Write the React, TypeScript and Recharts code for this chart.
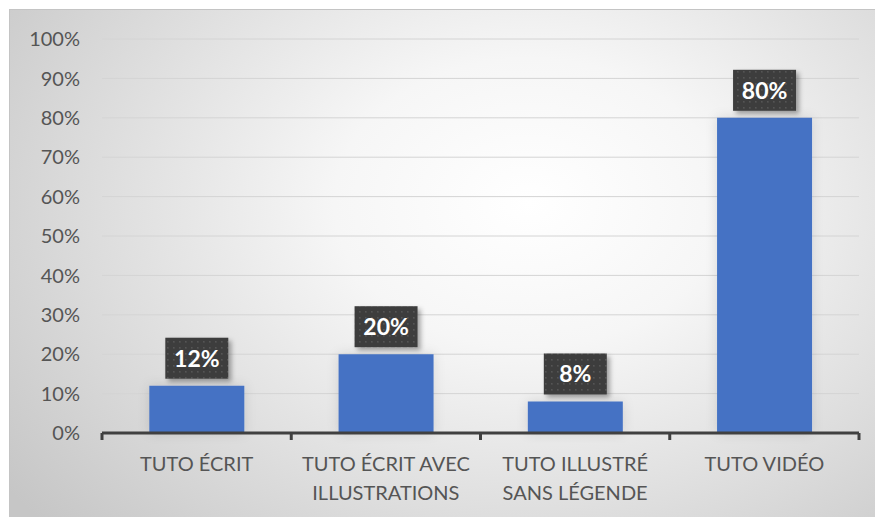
import React from "react";
import { BarChart, Bar, XAxis, YAxis, CartesianGrid, LabelList } from "recharts";

const categories = [
  "TUTO ÉCRIT",
  "TUTO ÉCRIT AVEC\nILLUSTRATIONS",
  "TUTO ILLUSTRÉ\nSANS LÉGENDE",
  "TUTO VIDÉO",
];
const values = [0.12, 0.2, 0.08, 0.8];
const yTicks = [0, 0.1, 0.2, 0.3, 0.4, 0.5, 0.6, 0.7, 0.8, 0.9, 1];

const data = categories.map((name, i) => ({ name, value: values[i] }));

const FONT = "Lato, 'Open Sans', sans-serif";
const TEXT = "#555555";
const AXIS = "#404040";

const CHART_W = 866;
const CHART_H = 508;
const MARGIN = { top: 30, right: 16, left: 0, bottom: 0 };
const Y_W = 93;
const BAND = (CHART_W - Y_W - MARGIN.right) / categories.length;

const pct = (v: number) => `${Math.round(v * 100)}%`;

const CategoryTick = (props: any) => {
  const { x, y, payload, index } = props;
  const lines = String(payload.value).split("\n");
  const left = x - BAND / 2;
  const right = x + BAND / 2;
  return (
    <g>
      <line x1={left} y1={y} x2={left} y2={y + 7} stroke={AXIS} strokeWidth={3} />
      {index === categories.length - 1 && (
        <line x1={right} y1={y} x2={right} y2={y + 7} stroke={AXIS} strokeWidth={3} />
      )}
      <text x={x} y={y} textAnchor="middle" fill={TEXT} fontSize={20} fontFamily={FONT}>
        {lines.map((l, i) => (
          <tspan key={i} x={x} y={y + 38 + i * 29}>
            {l}
          </tspan>
        ))}
      </text>
    </g>
  );
};

const ValueLabel = (props: any) => {
  const { x, y, width, value } = props;
  const cx = Number(x) + Number(width) / 2;
  const bw = 63;
  const bh = 41;
  const bottom = Number(y) - 7;
  const top = bottom - bh;
  return (
    <g>
      <rect x={cx - bw / 2} y={top} width={bw} height={bh} fill="url(#dots)" filter="url(#lblShadow)" />
      <text
        x={cx}
        y={top + bh / 2 + 8.5}
        textAnchor="middle"
        fill="#ffffff"
        fontSize={23}
        fontWeight={700}
        fontFamily={FONT}
      >
        {pct(Number(value))}
      </text>
    </g>
  );
};

export default function App() {
  return (
    <div style={{ position: "absolute", left: 0, top: 0, width: 875, height: 517, background: "#ffffff", overflow: "hidden" }}>
      <div
        style={{
          position: "absolute",
          left: 9,
          top: 9,
          width: CHART_W,
          height: CHART_H,
          boxSizing: "border-box",
          borderTop: "1px solid #c4c4c4",
          borderLeft: "1px solid #c4c4c4",
          background:
            "radial-gradient(ellipse 75% 95% at 60% 38%, #ffffff 0%, #f6f6f6 30%, #dedede 65%, #c6c6c6 100%)",
        }}
      />
      <div style={{ position: "absolute", left: 9, top: 9 }}>
        <BarChart width={CHART_W} height={CHART_H} data={data} margin={MARGIN} barCategoryGap="25%">
          <defs>
            <pattern id="dots" x="0" y="0" width="6" height="6" patternUnits="userSpaceOnUse">
              <rect x="0" y="0" width="6" height="6" fill="#3d3d3d" />
              <rect x="2" y="2" width="1.6" height="1.6" fill="#555555" />
            </pattern>
            <filter id="lblShadow" x="-30%" y="-30%" width="160%" height="160%">
              <feDropShadow dx="3" dy="3" stdDeviation="2.5" floodColor="#000" floodOpacity="0.35" />
            </filter>
            <filter id="barShadow" x="-30%" y="-30%" width="160%" height="160%">
              <feDropShadow dx="0" dy="0" stdDeviation="6" floodColor="#000" floodOpacity="0.12" />
            </filter>
          </defs>
          <CartesianGrid vertical={false} stroke="#d4d4d4" strokeWidth={1} />
          <XAxis
            dataKey="name"
            height={84}
            interval={0}
            axisLine={{ stroke: AXIS, strokeWidth: 3 }}
            tickLine={false}
            tickSize={0}
            tickMargin={0}
            tick={<CategoryTick />}
          />
          <YAxis
            width={Y_W}
            domain={[0, 1]}
            ticks={yTicks}
            tickFormatter={pct}
            axisLine={false}
            tickLine={false}
            tickSize={0}
            tickMargin={22}
            tick={{ fill: TEXT, fontSize: 20, fontFamily: FONT }}
          />
          <Bar dataKey="value" fill="#4472C4" isAnimationActive={false} style={{ filter: "url(#barShadow)" }}>
            <LabelList dataKey="value" content={<ValueLabel />} />
          </Bar>
        </BarChart>
      </div>
    </div>
  );
}
